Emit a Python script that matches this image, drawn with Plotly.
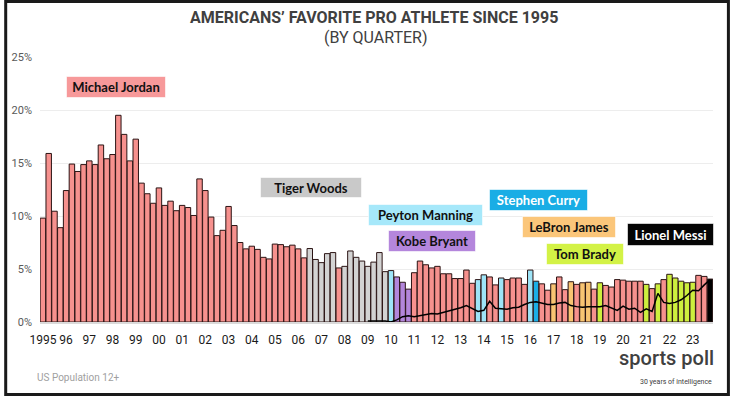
import plotly.graph_objects as go

# ---------------- data ----------------
years = list(range(1995, 2024))
quarters = ["Q1", "Q2", "Q3", "Q4"]
categories = [f"{y} {q}" for y in years for q in quarters]

year_labels = ["1995", "96", "97", "98", "99", "00", "01", "02", "03", "04",
               "05", "06", "07", "08", "09", "10", "11", "12", "13", "14",
               "15", "16", "17", "18", "19", "20", "21", "22", "23"]

# share (%) naming the favorite athlete, per quarter
share = [
    9.8, 15.9, 10.45, 8.9,      # 1995
    12.4, 14.9, 14.2, 14.85,    # 1996
    15.2, 14.85, 16.7, 15.4,    # 1997
    15.8, 19.5, 17.7, 15.2,     # 1998
    17.25, 13.1, 12.1, 11.2,    # 1999
    12.65, 11.0, 11.4, 10.5,    # 2000
    11.0, 10.8, 10.05, 13.5,    # 2001
    12.4, 9.9, 8.15, 8.65,      # 2002
    10.9, 9.1, 7.5, 6.9,        # 2003
    7.15, 6.85, 6.1, 5.95,      # 2004
    7.35, 7.3, 7.1, 7.25,       # 2005
    6.9, 6.05, 6.93, 5.9,       # 2006
    5.6, 6.45, 6.55, 5.1,       # 2007
    5.25, 6.7, 6.1, 5.75,       # 2008
    5.25, 5.65, 6.55, 4.75,     # 2009
    4.85, 4.25, 3.75, 3.1,      # 2010
    4.65, 5.75, 5.4, 5.1,       # 2011
    5.25, 4.55, 4.55, 4.1,      # 2012
    4.1, 4.9, 3.65, 4.0,        # 2013
    4.45, 4.25, 3.5, 4.15,      # 2014
    4.0, 4.15, 4.15, 3.55,      # 2015
    4.9, 3.85, 3.6, 3.0,        # 2016
    3.6, 4.25, 3.05, 3.8,       # 2017
    3.55, 3.7, 3.75, 3.1,       # 2018
    3.7, 3.45, 3.3, 4.0,        # 2019
    3.95, 3.85, 3.85, 3.85,     # 2020
    3.55, 3.15, 3.6, 4.0,       # 2021
    4.5, 4.15, 3.85, 3.7,       # 2022
    3.75, 4.4, 4.3, 4.05,       # 2023
]

# leading athlete per quarter
leader = [
    "MJ", "MJ", "MJ", "MJ", "MJ", "MJ", "MJ", "MJ", "MJ", "MJ", "MJ", "MJ",
    "MJ", "MJ", "MJ", "MJ", "MJ", "MJ", "MJ", "MJ", "MJ", "MJ", "MJ", "MJ",
    "MJ", "MJ", "MJ", "MJ", "MJ", "MJ", "MJ", "MJ", "MJ", "MJ", "MJ", "MJ",
    "MJ", "MJ", "MJ", "MJ", "MJ", "MJ", "MJ", "MJ", "MJ", "MJ",
    "TW", "TW", "TW", "TW", "TW", "MJ",
    "TW", "TW", "TW", "TW", "TW", "TW", "TW", "TW",
    "PM", "KB", "KB", "KB",
    "MJ", "MJ", "MJ", "MJ", "MJ", "MJ", "MJ", "MJ", "MJ", "MJ", "MJ",
    "PM", "PM", "MJ", "MJ", "PM", "MJ", "MJ", "MJ", "MJ", "PM", "SC",
    "MJ", "MJ", "LJ", "MJ", "MJ", "LJ", "MJ", "LJ", "LJ", "MJ", "TB",
    "MJ", "MJ", "MJ", "MJ", "MJ", "MJ", "MJ", "TB", "MJ", "TB", "MJ",
    "TB", "TB", "TB", "TB", "TB", "MJ", "MJ", "LM",
]

# Lionel Messi's share (line), from 2009 Q1 onward
messi_start = "2009 Q1"
messi_share = [
    0.1, 0.1, 0.1, 0.1,
    0.0, 0.2, 0.5, 0.6,
    0.5, 0.6, 0.75, 0.8,
    0.75, 0.9, 1.0, 1.2,
    1.35, 1.55, 1.25, 1.0,
    1.1, 1.95, 1.3, 1.25,
    1.2, 1.35, 1.4, 1.65,
    1.85, 1.9, 1.75, 1.65,
    1.65, 1.8, 1.85, 1.55,
    1.45, 1.4, 1.45, 1.45,
    1.45, 1.55, 1.35, 1.1,
    1.5, 1.2, 1.3, 0.9,
    1.25, 1.0, 2.7, 1.85,
    1.75, 1.85, 2.1, 2.5,
    3.0, 2.95, 3.5, 4.0,
]

athletes = {
    "MJ": ("Michael Jordan", "#F6918E", "#F7999A", "#111111"),
    "TW": ("Tiger Woods", "#D3D3D3", "#C9C9C9", "#111111"),
    "PM": ("Peyton Manning", "#9EE4F7", "#A6E8FA", "#111111"),
    "KB": ("Kobe Bryant", "#B386DB", "#B486DC", "#111111"),
    "SC": ("Stephen Curry", "#1AAEE6", "#19ADE5", "#FFFFFF"),
    "LJ": ("LeBron James", "#F8C472", "#FBC67A", "#111111"),
    "TB": ("Tom Brady", "#CDEF3E", "#D3F246", "#111111"),
    "LM": ("Lionel Messi", "#000000", "#050505", "#FFFFFF"),
}

# ---------------- figure ----------------
W, H = 730, 396
ML, MR, MT, MB = 36, 17, 57, 74
PW, PH = W - ML - MR, H - MT - MB


def px_x(p):
    return (p - ML) / PW


def px_y(p):
    return (H - MB - p) / PH


fig = go.Figure()
fig.add_trace(go.Bar(
    x=categories,
    y=share,
    marker=dict(color=[athletes[a][1] for a in leader],
                line=dict(color="#2B1414", width=1)),
    hoverinfo="skip",
))

mi = categories.index(messi_start)
fig.add_trace(go.Scatter(
    x=categories[mi:mi + len(messi_share)],
    y=messi_share,
    mode="lines",
    line=dict(color="#000000", width=1.5),
    hoverinfo="skip",
))

# athlete label boxes: (code, center_x_px, center_y_px, width, height)
label_boxes = [
    ("MJ", 112, 87, 100, 22),
    ("TW", 309, 187.5, 102, 21),
    ("PM", 423.5, 214.5, 115, 22),
    ("KB", 430, 241, 88, 22),
    ("SC", 537.5, 200, 99, 22),
    ("LJ", 568, 227, 94, 22),
    ("TB", 584, 254, 78, 22),
    ("LM", 670.5, 234.5, 87, 23),
]
annotations = []
for code, cx, cy, bw, bh in label_boxes:
    name, _, bg, fg = athletes[code]
    annotations.append(dict(
        xref="paper", yref="paper", x=px_x(cx), y=px_y(cy),
        xanchor="center", yanchor="middle",
        text=f"<b>{name}</b>", showarrow=False,
        font=dict(family="Lato", size=13, color=fg),
        bgcolor=bg, bordercolor="rgba(255,255,255,0.6)", borderwidth=1,
        borderpad=0, width=bw - 2, height=bh - 2,
    ))

annotations += [
    dict(xref="paper", yref="paper", x=px_x(372), y=px_y(17.5),
         xanchor="center", yanchor="middle", showarrow=False,
         text="<b>AMERICANS’ FAVORITE PRO ATHLETE SINCE 1995</b>",
         font=dict(family="Roboto", size=16, color="#404040")),
    dict(xref="paper", yref="paper", x=px_x(374), y=px_y(37.5),
         xanchor="center", yanchor="middle", showarrow=False,
         text="(BY QUARTER)",
         font=dict(family="Roboto", size=16, color="#404040")),
    dict(xref="paper", yref="paper", x=px_x(31), y=px_y(377),
         xanchor="left", yanchor="middle", showarrow=False,
         text="US Population 12+",
         font=dict(family="Roboto", size=10, color="#A0A0A0")),
    dict(xref="paper", yref="paper", x=px_x(716), y=px_y(358),
         xanchor="right", yanchor="middle", showarrow=False,
         text="sports poll",
         font=dict(family="Roboto", size=20, color="#404040", weight=500)),
    dict(xref="paper", yref="paper", x=px_x(714), y=px_y(382),
         xanchor="right", yanchor="middle", showarrow=False,
         text="30 years of intelligence",
         font=dict(family="Roboto", size=7, color="#404040")),
]

shapes = [
    dict(type="rect", xref="paper", yref="paper",
         x0=px_x(1.5), x1=px_x(728.5), y0=px_y(394.5), y1=px_y(1.5),
         line=dict(color="#1A1A1A", width=3), fillcolor="rgba(0,0,0,0)",
         layer="above"),
]

fig.update_layout(
    width=W, height=H,
    margin=dict(l=ML, r=MR, t=MT, b=MB),
    paper_bgcolor="#FFFFFF", plot_bgcolor="#FFFFFF",
    showlegend=False, bargap=0.06,
    annotations=annotations, shapes=shapes,
    xaxis=dict(
        type="category", categoryorder="array", categoryarray=categories,
        tickmode="array", tickvals=categories[::4], ticktext=year_labels,
        tickangle=0, showgrid=False, ticks="",
        showline=True, linecolor="#DADADA", linewidth=2,
        tickfont=dict(family="Roboto", size=12, color="#1A1A1A"),
        ticklabelstandoff=6,
        range=[-0.5, len(categories) - 0.5],
    ),
    yaxis=dict(
        range=[0, 25], dtick=5, ticksuffix="%",
        showgrid=True, gridcolor="#EDEDED", gridwidth=1,
        zeroline=False, ticks="",
        tickfont=dict(family="Roboto", size=11, color="#595959"),
        ticklabelstandoff=7,
    ),
)

fig.write_html("out.html",
               config={"displayModeBar": False, "staticPlot": True},
               post_script="document.body.style.margin='0';"
                           "document.body.style.overflow='hidden';")
